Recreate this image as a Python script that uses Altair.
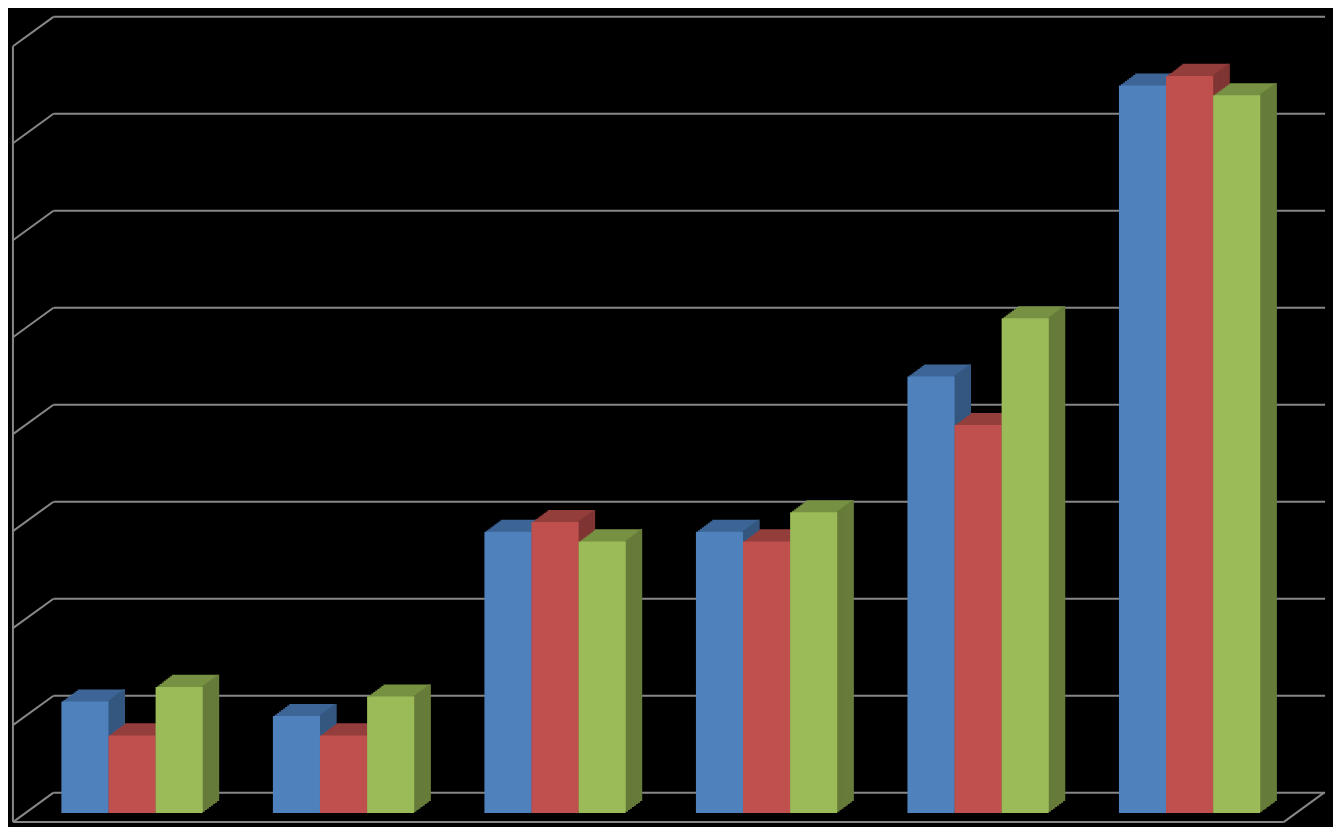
import altair as alt
import pandas as pd

# ---- data ----
groups = ["1", "2", "3", "4", "5", "6"]
series_names = ["Series 1", "Series 2", "Series 3"]
series1 = [1.15, 1.0, 2.9, 2.9, 4.5, 7.5]
series2 = [0.8, 0.8, 3.0, 2.8, 4.0, 7.6]
series3 = [1.3, 1.2, 2.8, 3.1, 5.1, 7.4]
grid_levels = [0, 1, 2, 3, 4, 5, 6, 7, 8]

# ---- styling / geometry (the chart is fitted into 1325 x 819 inside the 8px page margin) ----
front_colors = ["#4F81BD", "#C0504D", "#9BBB59"]
top_colors = ["#3D6596", "#943E3C", "#779143"]
side_colors = ["#34577F", "#7F3533", "#667B39"]
GRID = "#878787"

W, H = 1325, 819
SX, SY = W / 1341, H / 835

BAR_W = 47.67 * SX          # width of one bar's front face
DX, DY = 16.5 * SX, 12.3 * SY  # depth extrusion
N = 8                        # steps used to draw the extrusion
BACK = -20.7 * SY            # back wall offset relative to bar baseline
FRONT = 9.3 * SY             # front edge offset relative to bar baseline
BASE = 820.7 * SY            # bar baseline (value 0)
UNIT = 98.875 * SY           # pixels per unit

X_LEFT, X_WALL, X_RIGHT_BACK, X_FLOOR_FRONT, X_FLOOR_BACK = 5 * SX, 46 * SX, 1333 * SX, 1291 * SX, 1332 * SX

xscale = alt.Scale(domain=groups, range=[18.5 * SX, 1302.9 * SX], paddingInner=0, paddingOuter=0)
yscale = alt.Scale(domain=[0, BASE / UNIT], range=[BASE, 0], nice=False, zero=False)

layers = []

# ---- walls / gridlines ----
grid = pd.DataFrame({"level": grid_levels})
ybase = alt.Y("level:Q", scale=yscale, axis=None)

layers.append(
    alt.Chart(grid).mark_rule(color=GRID, strokeWidth=2, yOffset=BACK, y2Offset=BACK)
    .encode(x=alt.value(X_WALL), x2=alt.value(X_RIGHT_BACK), y=ybase, y2=alt.Y2("level:Q"))
)
layers.append(
    alt.Chart(grid).mark_rule(color=GRID, strokeWidth=2, yOffset=FRONT, y2Offset=BACK)
    .encode(x=alt.value(X_LEFT), x2=alt.value(X_WALL), y=ybase, y2=alt.Y2("level:Q"))
)
wall = pd.DataFrame({"lo": [grid_levels[0]], "hi": [grid_levels[-1]]})
layers.append(
    alt.Chart(wall).mark_rule(color=GRID, strokeWidth=2, yOffset=FRONT, y2Offset=FRONT)
    .encode(x=alt.value(X_LEFT), y=alt.Y("hi:Q", scale=yscale, axis=None), y2=alt.Y2("lo:Q"))
)
layers.append(
    alt.Chart(wall).mark_rule(color=GRID, strokeWidth=2, yOffset=FRONT)
    .encode(x=alt.value(X_LEFT), x2=alt.value(X_FLOOR_FRONT), y=alt.Y("lo:Q", scale=yscale, axis=None))
)
layers.append(
    alt.Chart(wall).mark_rule(color=GRID, strokeWidth=2, yOffset=FRONT, y2Offset=BACK)
    .encode(x=alt.value(X_FLOOR_FRONT), x2=alt.value(X_FLOOR_BACK),
            y=alt.Y("lo:Q", scale=yscale, axis=None), y2=alt.Y2("lo:Q"))
)

# ---- 3D columns ----
all_series = [series1, series2, series3]
for si, vals in enumerate(all_series):
    df = pd.DataFrame({"group": groups, "value": vals, "series": series_names[si]})
    enc = dict(
        x=alt.X("group:N", scale=xscale, axis=None, sort=groups),
        y=alt.Y("value:Q", scale=yscale, axis=None),
    )
    base_off = (si - 1) * BAR_W
    # top face (extruded copies)
    for k in range(N, 0, -1):
        ox = base_off + k * DX / N
        oy = -k * DY / N
        layers.append(
            alt.Chart(df).mark_bar(width=BAR_W, color=top_colors[si], xOffset=ox,
                                   yOffset=oy, y2Offset=oy).encode(**enc)
        )
    # side face (thin strips)
    sw = DX / N
    for k in range(1, N + 1):
        cx = base_off + BAR_W / 2 + (k - 0.5) * sw
        oy = -k * DY / N
        layers.append(
            alt.Chart(df).mark_bar(width=sw + 0.4, color=side_colors[si], xOffset=cx,
                                   yOffset=oy, y2Offset=oy).encode(**enc)
        )
    # front face
    layers.append(
        alt.Chart(df).mark_bar(width=BAR_W, color=front_colors[si], xOffset=base_off).encode(**enc)
    )

chart = (
    alt.LayerChart(layer=layers)
    .properties(
        width=W,
        height=H,
        background="#000000",
        padding=0,
        autosize="none",
    )
    .configure_view(stroke=None)
)

chart.save("out.html", embed_options={"renderer": "svg", "actions": False})
